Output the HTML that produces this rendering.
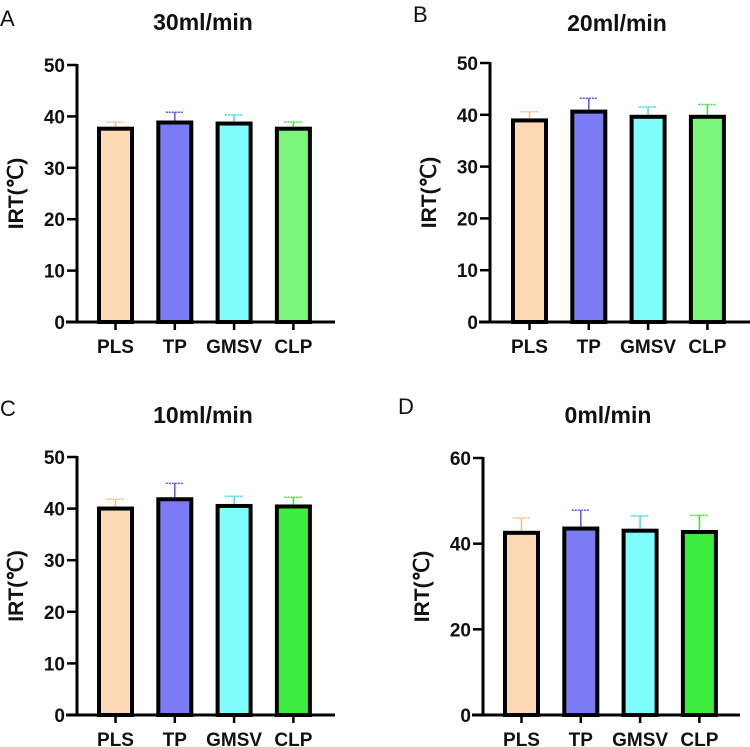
<!DOCTYPE html>
<html><head><meta charset="utf-8"><style>
body{margin:0;background:#fff;width:750px;height:747px;overflow:hidden}
svg{display:block;font-family:"Liberation Sans",Arial,sans-serif}
</style></head><body>
<svg id="c" width="750" height="747" viewBox="0 0 750 747"></svg>
<script>
const categories=["PLS","TP","GMSV","CLP"];
const meansA=[38,39.2,39,38];
const errA=[0.9,1.6,1.3,0.9];
const meansB=[39.3,41,40,40];
const errB=[1.3,2.2,1.5,2];
const meansC=[40.4,42.2,40.9,40.8];
const errC=[1.4,2.7,1.5,1.4];
const meansD=[43,44,43.5,43.2];
const errD=[3,3.8,3,3.4];
const ticksABC=[0,10,20,30,40,50];
const ticksD=[0,20,40,60];
const titles=["30ml/min","20ml/min","10ml/min","0ml/min"];
const letters=["A","B","C","D"];
const fills=[["#fcd8b4","#7b7bf6","#80fdfd","#7cf57c"],["#fcd8b4","#7b7bf6","#80fdfd","#7cf57c"],["#fcd8b4","#7b7bf6","#80fdfd","#3ded3d"],["#fcd8b4","#7b7bf6","#80fdfd","#3ded3d"]];
const errCols=["#f5b98a","#5555f0","#33e6e6","#40dd40"];
const NS="http://www.w3.org/2000/svg";
const svg=document.getElementById('c');
function mk(t,a,p){const e=document.createElementNS(NS,t);for(const k in a)e.setAttribute(k,a[k]);(p||svg).appendChild(e);return e;}
const panels=[
 {means:meansA,err:errA,ticks:ticksABC,ax:77,y0:322,ytop:65,xend:335,bx0:97,tx:203,ty:30,lx:0,ly:26},
 {means:meansB,err:errB,ticks:ticksABC,ax:490,y0:322,ytop:63,xend:750,bx0:511,tx:617,ty:31,lx:413,ly:22},
 {means:meansC,err:errC,ticks:ticksABC,ax:77,y0:715,ytop:457,xend:335,bx0:97,tx:203,ty:423,lx:0,ly:416},
 {means:meansD,err:errD,ticks:ticksD,ax:483,y0:715,ytop:458,xend:740,bx0:503,tx:608,ty:423,lx:398,ly:414}
];
panels.forEach((p,i)=>{
 const g=mk('g',{});
 
 
 const maxV=p.ticks[p.ticks.length-1];
 const ys=v=>p.y0-(v/maxV)*(p.y0-p.ytop);
 const step=59.3, bw=37;
 const xs=k=>p.bx0+k*step+bw/2;
 let t=mk('text',{x:p.lx,y:p.ly,'font-size':22,fill:'#111'},g);t.textContent=letters[i];
 
 t=mk('text',{x:p.tx,y:p.ty,'font-size':23,'font-weight':'bold','text-anchor':'middle',fill:'#111'},g);t.textContent=titles[i];
 
 t=mk('text',{transform:`translate(${p.ax-54},${(p.y0+p.ytop)/2}) rotate(-90)`,'font-size':21,'font-weight':'bold','text-anchor':'middle',fill:'#111'},g);t.textContent="IRT(℃)";
 
 categories.forEach((c,k)=>{
  const cx=xs(k);
  const top=ys(p.means[k]), et=ys(p.means[k]+p.err[k]);
  let l=mk('line',{x1:cx,x2:cx,y1:top,y2:et,stroke:errCols[k],'stroke-width':1.5},g);
  
  l=mk('line',{x1:cx-9,x2:cx+9,y1:et,y2:et,stroke:errCols[k],'stroke-width':1.5,'stroke-dasharray':'2,1'},g);
  
  const r=mk('rect',{x:cx-bw/2+2,y:top+2,width:bw-4,height:p.y0-top-2,fill:fills[i][k],stroke:'#000','stroke-width':4},g);
  
  l=mk('line',{x1:cx,x2:cx,y1:p.y0,y2:p.y0+8,stroke:'#000','stroke-width':2.5},g);
  
  t=mk('text',{x:cx,y:p.y0+31,'font-size':19,'font-weight':'bold','text-anchor':'middle',fill:'#111'},g);t.textContent=c;
  
 });
 let a=mk('line',{x1:p.ax,x2:p.ax,y1:p.ytop-1,y2:p.y0+1.5,stroke:'#000','stroke-width':3},g);
 
 a=mk('line',{x1:p.ax-11,x2:p.xend,y1:p.y0,y2:p.y0,stroke:'#000','stroke-width':3},g);
 
 p.ticks.forEach(v=>{
  const y=ys(v);
  let l=mk('line',{x1:p.ax-10,x2:p.ax,y1:y,y2:y,stroke:'#000','stroke-width':2.5},g);
  
  let tt=mk('text',{x:p.ax-12,y:y+7,'font-size':19,'font-weight':'bold','text-anchor':'end',fill:'#111'},g);tt.textContent=v;
  
 });
});
</script>
</body></html>
